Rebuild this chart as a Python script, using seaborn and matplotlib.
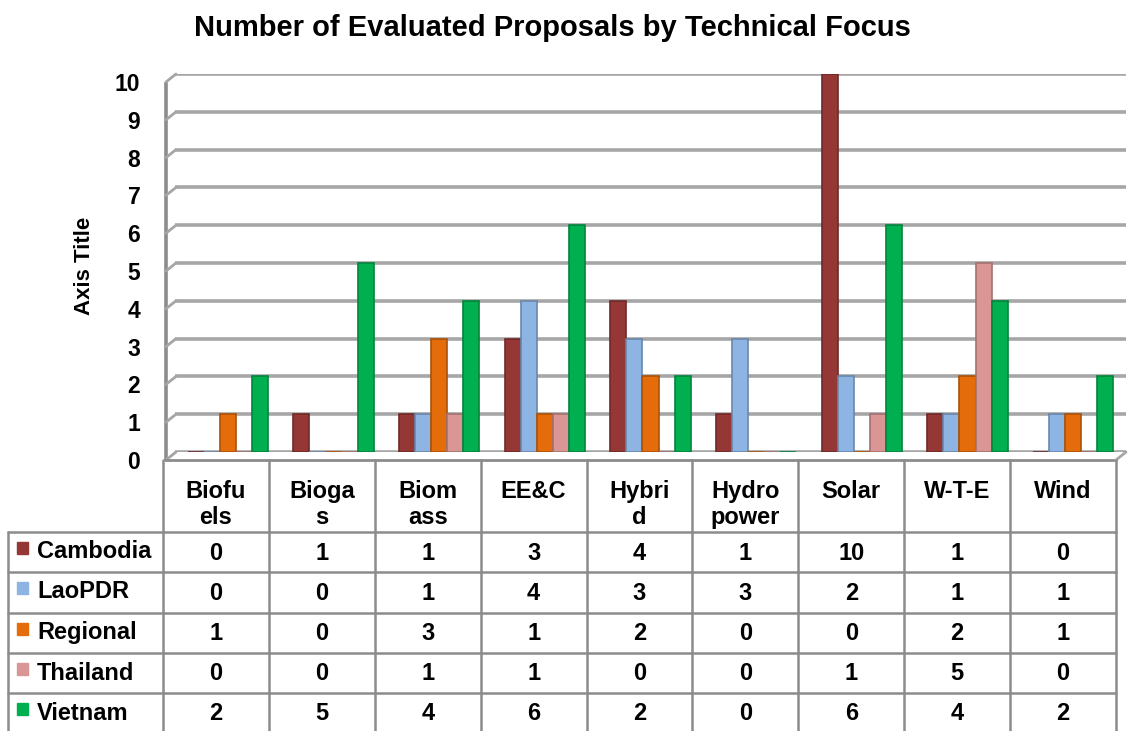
import numpy as np
import pandas as pd
import seaborn as sns
import matplotlib.pyplot as plt
from matplotlib.colors import to_rgb
from matplotlib.transforms import ScaledTranslation

# --- 1. DATA ---
categories = ['Biofuels', 'Biogas', 'Biomass', 'EE&C', 'Hybrid',
              'Hydropower', 'Solar', 'W-T-E', 'Wind']
header_labels = ['Biofu\nels', 'Bioga\ns', 'Biom\nass', 'EE&C', 'Hybri\nd',
                 'Hydro\npower', 'Solar', 'W-T-E', 'Wind']
countries = ['Cambodia', 'LaoPDR', 'Regional', 'Thailand', 'Vietnam']

cambodia = [0, 1, 1, 3, 4, 1, 10, 1, 0]
laopdr = [0, 0, 1, 4, 3, 3, 2, 1, 1]
regional = [1, 0, 3, 1, 2, 0, 0, 2, 1]
thailand = [0, 0, 1, 1, 0, 0, 1, 5, 0]
vietnam = [2, 5, 4, 6, 2, 0, 6, 4, 2]

colors = ['#953735', '#8DB4E2', '#E46C0A', '#D99694', '#00B050']
y_ticks = list(range(0, 11))

series = [cambodia, laopdr, regional, thailand, vietnam]
df = pd.DataFrame({
    'Focus': np.tile(categories, len(countries)),
    'Country': np.repeat(countries, len(categories)),
    'Count': np.concatenate(series),
})

# --- 2. FIGURE SETUP ---
W, H = 1129, 731
sns.set_style('white')
plt.rcParams['font.family'] = ['Liberation Sans', 'DejaVu Sans']
plt.rcParams['text.color'] = 'black'
plt.rcParams['ytick.color'] = 'black'
fig = plt.figure(figsize=(W / 100, H / 100), dpi=100)


def px_box(x0, y0, x1, y1):
    # pixel box (top-left origin) -> figure fraction rect
    return [x0 / W, 1 - y1 / H, (x1 - x0) / W, (y1 - y0) / H]


grid_col = '#A6A6A6'
line_col = '#8C8C8C'
fs = 17

# --- 3. BAR CHART ---
ax = fig.add_axes(px_box(175, 74, 1126, 452))
sns.barplot(data=df, x='Focus', y='Count', hue='Country', order=categories,
            hue_order=countries, palette=colors, saturation=1, width=0.76,
            ax=ax, linewidth=1.2, zorder=3)

# darker edge for a bit of the 3D look
for cont, c in zip(ax.containers, colors):
    dark = tuple(v * 0.75 for v in to_rgb(c))
    for bar in cont:
        bar.set_edgecolor(dark)

ax.set_xlim(-0.5, 8.5)
ax.set_ylim(0, 10)
ax.set_yticks(y_ticks)
ax.set_xticks([])
ax.set_xlabel('')
ax.set_ylabel('')
ax.yaxis.grid(True, color=grid_col, linewidth=2.6)
ax.set_axisbelow(True)
for s in ax.spines.values():
    s.set_visible(False)
if ax.legend_ is not None:
    ax.legend_.remove()

ax.tick_params(axis='y', length=0, pad=25, labelcolor='black')
shift = ScaledTranslation(0, -8 / 100, fig.dpi_scale_trans)
for tick in ax.yaxis.get_major_ticks():
    tick.label1.set_fontweight('bold')
    tick.label1.set_fontsize(16.5)
    tick.label1.set_transform(tick.label1.get_transform() + shift)

# --- 4. FRONT FRAME + DATA TABLE (pixel coords overlay) ---
ov = fig.add_axes([0, 0, 1, 1])
ov.set_xlim(0, W)
ov.set_ylim(H, 0)
ov.axis('off')

# front wall edge and little perspective stubs
ov.plot([166, 166], [82, 460], color=line_col, lw=2.6, solid_capstyle='butt')
for k in y_ticks:
    yf = 460 - 37.8 * k
    ov.plot([166, 176], [yf, yf - 8], color=grid_col, lw=2)
ov.plot([165, 1116], [460, 460], color=line_col, lw=2)
ov.plot([1116, 1126], [460, 452], color=grid_col, lw=2)

col_left = 163
col_w = (1116 - 163) / len(categories)
row_lines = [532, 572, 613, 653, 693]
row_h = 40

for i in range(len(categories) + 1):
    x = col_left + i * col_w
    ov.plot([x, x], [460, H], color=line_col, lw=1.8)
ov.plot([8, 8], [532, H], color=line_col, lw=1.8)
for y in row_lines:
    ov.plot([8, 1116], [y, y], color=line_col, lw=1.8)

# header labels
for i, lab in enumerate(header_labels):
    ov.text(col_left + (i + 0.5) * col_w, 480, lab, ha='center', va='top',
            fontsize=fs, fontweight='bold', linespacing=1.15)

# rows
for r, (name, vals, c) in enumerate(zip(countries, series, colors)):
    yc = row_lines[r] + row_h / 2
    ov.add_patch(plt.Rectangle((17, yc - 10), 11, 12, color=c))
    ov.text(37, yc, name, ha='left', va='center', fontsize=fs,
            fontweight='bold')
    for i, v in enumerate(vals):
        ov.text(col_left + (i + 0.5) * col_w, yc + 1, str(v), ha='center',
                va='center', fontsize=fs, fontweight='bold')

# --- 5. TITLES ---
fig.text(552 / W, 1 - 28 / H, 'Number of Evaluated Proposals by Technical Focus',
         ha='center', va='center', fontsize=21, fontweight='bold')
fig.text(84 / W, 1 - 266 / H, 'Axis Title', ha='center', va='center',
         rotation=90, fontsize=16, fontweight='bold')

plt.savefig('out.png', dpi=100)
